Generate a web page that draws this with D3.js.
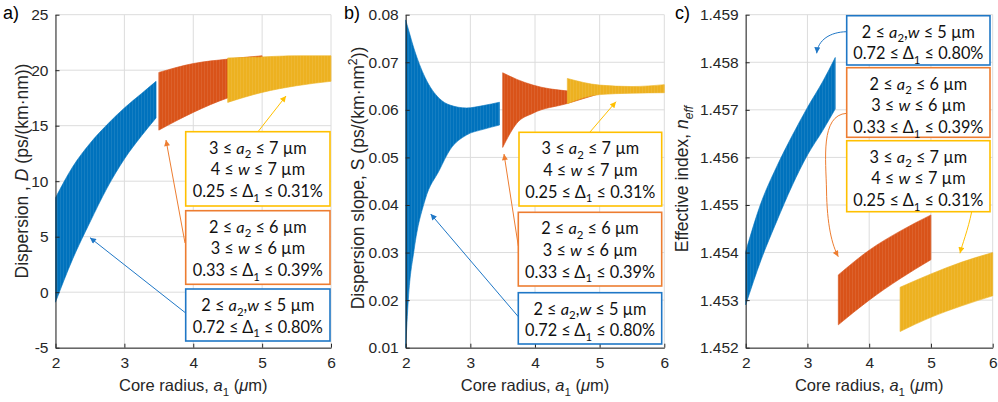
<!DOCTYPE html>
<html>
<head>
<meta charset="utf-8">
<script src="https://cdn.jsdelivr.net/npm/d3@7"></script>
<style>
  body { margin: 0; background: #fff; }
  svg { display: block; }
</style>
</head>
<body>
<div id="chart"></div>
<script>
// ---- data ----
var xTicks = [2, 3, 4, 5, 6];
var dispTicks = [-5, 0, 5, 10, 15, 20, 25];
var slopeTicks = [0.01, 0.02, 0.03, 0.04, 0.05, 0.06, 0.07, 0.08];
var neffTicks = [1.452, 1.453, 1.454, 1.455, 1.456, 1.457, 1.458, 1.459];

// a) dispersion D
var dBlueA1 = [2, 2.25, 2.5, 2.75, 3, 3.25, 3.46];
var dBlueHi = [8.5, 11.3, 13.4, 15.1, 16.6, 17.9, 19.0];
var dBlueLo = [-0.9, 3.0, 6.3, 9.4, 12.0, 14.1, 15.7];
var dOrangeA1 = [3.5, 4, 4.5, 5];
var dOrangeHi = [19.8, 20.6, 21.0, 21.3];
var dOrangeLo = [14.6, 16.2, 17.5, 18.3];
var dYellowA1 = [4.5, 5, 5.5, 6];
var dYellowHi = [21.1, 21.2, 21.3, 21.3];
var dYellowLo = [17.1, 18.0, 18.6, 19.0];

// b) dispersion slope S
var sBlueA1 = [2, 2.04, 2.13, 2.3, 2.52, 2.685, 2.94, 3.2, 3.45];
var sBlueHi = [0.0789, 0.0770, 0.0728, 0.0668, 0.0624, 0.0610, 0.0604, 0.0609, 0.0616];
var sBlueLo = [0.0100, 0.0200, 0.0306, 0.0411, 0.0473, 0.0516, 0.0547, 0.0559, 0.0568];
var sOrangeA1 = [3.5, 3.72, 3.97, 4.49, 5.0];
var sOrangeHi = [0.0678, 0.0664, 0.0652, 0.0640, 0.0637];
var sOrangeLo = [0.0521, 0.0572, 0.0593, 0.0613, 0.0634];
var sYellowA1 = [4.5, 5, 5.5, 6];
var sYellowHi = [0.0666, 0.0652, 0.0649, 0.0653];
var sYellowLo = [0.0613, 0.0632, 0.0635, 0.0636];

// c) effective index
var nBlueA1 = [2, 2.25, 2.5, 2.75, 3, 3.25, 3.45];
var nBlueHi = [1.45402, 1.45505, 1.45580, 1.45645, 1.45705, 1.45760, 1.45810];
var nBlueLo = [1.45290, 1.45385, 1.45465, 1.45540, 1.45605, 1.45657, 1.45702];
var nOrangeA1 = [3.5, 4, 4.5, 5];
var nOrangeHi = [1.45353, 1.45405, 1.45445, 1.45479];
var nOrangeLo = [1.45248, 1.45300, 1.45345, 1.45385];
var nYellowA1 = [4.5, 5, 5.5, 6];
var nYellowHi = [1.45327, 1.45355, 1.45380, 1.45400];
var nYellowLo = [1.45234, 1.45264, 1.45288, 1.45309];

// annotation texts
var yellowLines = [
  [{t: "3 ≤ "}, {t: "a", it: 1}, {t: "2", sub: 1}, {t: " ≤ 7 µm"}],
  [{t: "4 ≤ "}, {t: "w", it: 1}, {t: " ≤ 7 µm"}],
  [{t: "0.25 ≤ Δ"}, {t: "1", sub: 1}, {t: " ≤ 0.31%"}]
];
var orangeLines = [
  [{t: "2 ≤ "}, {t: "a", it: 1}, {t: "2", sub: 1}, {t: " ≤ 6 µm"}],
  [{t: "3 ≤ "}, {t: "w", it: 1}, {t: " ≤ 6 µm"}],
  [{t: "0.33 ≤ Δ"}, {t: "1", sub: 1}, {t: " ≤ 0.39%"}]
];
var blueLines = [
  [{t: "2 ≤ "}, {t: "a", it: 1}, {t: "2", sub: 1}, {t: ","}, {t: "w", it: 1}, {t: " ≤ 5 µm"}],
  [{t: "0.72 ≤ Δ"}, {t: "1", sub: 1}, {t: " ≤ 0.80%"}]
];

var blue = "#0072BD", orange = "#D95319", yellow = "#EDB120";
var blueEdge = "#1F77C6", orangeEdge = "#ED7D31", yellowEdge = "#FFC000";
var axisFont = "'Liberation Sans', Arial, sans-serif";
var boxFont = "Lato, 'Open Sans', sans-serif";

var svg = d3.select("#chart").append("svg")
  .attr("width", 998)
  .attr("height", 402);

var defs = svg.append("defs");
[["blue", blueEdge], ["orange", orangeEdge], ["yellow", yellowEdge]].forEach(function(m) {
  defs.append("marker")
    .attr("id", "arrow-" + m[0])
    .attr("viewBox", "0 0 10 10")
    .attr("refX", 10).attr("refY", 5)
    .attr("markerWidth", 8).attr("markerHeight", 6)
    .attr("markerUnits", "userSpaceOnUse")
    .attr("orient", "auto")
    .append("path")
    .attr("d", "M0,0 L10,5 L0,10 z")
    .attr("fill", m[1]);
});

// faint vertical streaks, the bands are drawn from many thin lines in the original
var streak = defs.append("pattern")
  .attr("id", "streak")
  .attr("patternUnits", "userSpaceOnUse")
  .attr("width", 3).attr("height", 10);
streak.append("rect").attr("x", 0).attr("y", 0).attr("width", 0.8).attr("height", 10)
  .attr("fill", "#fff").attr("opacity", 0.1);

// writes mixed italic / subscript / superscript pieces into a text element
function rich(textSel, parts, fs) {
  var shift = 0;
  parts.forEach(function(p) {
    var ts = textSel.append("tspan").text(p.t);
    var target = p.sub ? fs * 0.28 : (p.sup ? -fs * 0.42 : 0);
    if (target !== shift) { ts.attr("dy", target - shift); shift = target; }
    if (p.it) ts.attr("font-style", "italic");
    if (p.sub || p.sup) ts.attr("font-size", fs * 0.7);
  });
}

var panels = [
  {
    letter: "a)", letterX: 3, left: 55.5, right: 331, yDomain: [-5, 25], ticks: dispTicks,
    fmt: function(d) { return d < 0 ? "-" + Math.abs(d) : d; },
    ylabX: 28, ylabY: 171,
    ylab: [{t: "Dispersion , "}, {t: "D", it: 1}, {t: " (ps/(km·nm))"}],
    bands: [[dBlueA1, dBlueHi, dBlueLo, blue], [dOrangeA1, dOrangeHi, dOrangeLo, orange], [dYellowA1, dYellowHi, dYellowLo, yellow]]
  },
  {
    letter: "b)", letterX: 344, left: 405.7, right: 664.3, yDomain: [0.01, 0.08], ticks: slopeTicks,
    fmt: d3.format(".2f"),
    ylabX: 364, ylabY: 178,
    ylab: [{t: "Dispersion slope, S (ps/(km·nm"}, {t: "2", sup: 1}, {t: "))"}],
    bands: [[sBlueA1, sBlueHi, sBlueLo, blue], [sOrangeA1, sOrangeHi, sOrangeLo, orange], [sYellowA1, sYellowHi, sYellowLo, yellow]]
  },
  {
    letter: "c)", letterX: 675, left: 745.7, right: 992.7, yDomain: [1.452, 1.459], ticks: neffTicks,
    fmt: d3.format(".3f"),
    ylabX: 688, ylabY: 179,
    ylab: [{t: "Effective index, "}, {t: "n", it: 1}, {t: "eff", sub: 1, it: 1}],
    bands: [[nBlueA1, nBlueHi, nBlueLo, blue], [nOrangeA1, nOrangeHi, nOrangeLo, orange], [nYellowA1, nYellowHi, nYellowLo, yellow]]
  }
];

var plotTop = 14.7, plotBottom = 347.7;

panels.forEach(function(p) {
  var x = d3.scaleLinear().domain([2, 6]).range([p.left, p.right]);
  var y = d3.scaleLinear().domain(p.yDomain).range([plotBottom, plotTop]);
  var g = svg.append("g");

  // grid
  g.selectAll(".gx").data(xTicks).enter().append("line")
    .attr("x1", function(d) { return x(d); }).attr("x2", function(d) { return x(d); })
    .attr("y1", plotTop).attr("y2", plotBottom)
    .attr("stroke", "#dcdcdc").attr("stroke-width", 1);
  g.selectAll(".gy").data(p.ticks).enter().append("line")
    .attr("x1", p.left).attr("x2", p.right)
    .attr("y1", function(d) { return y(d); }).attr("y2", function(d) { return y(d); })
    .attr("stroke", "#dcdcdc").attr("stroke-width", 1);

  // bands
  p.bands.forEach(function(b) {
    var pts = b[0].map(function(a, i) { return {a: a, hi: b[1][i], lo: b[2][i]}; });
    var area = d3.area()
      .x(function(d) { return x(d.a); })
      .y0(function(d) { return y(d.lo); })
      .y1(function(d) { return y(d.hi); })
      .curve(d3.curveMonotoneX);
    g.append("path")
      .attr("d", area(pts))
      .attr("fill", b[3])
      .attr("stroke", b[3])
      .attr("stroke-width", 0.6);
    g.append("path")
      .attr("d", area(pts))
      .attr("fill", "url(#streak)");
  });

  // axes
  var bottomAxis = d3.axisBottom(x).tickValues(xTicks).tickFormat(d3.format("d"))
    .tickSizeInner(-4).tickSizeOuter(0).tickPadding(9);
  var leftAxis = d3.axisLeft(y).tickValues(p.ticks).tickFormat(p.fmt)
    .tickSizeInner(-4).tickSizeOuter(0).tickPadding(7);
  var ax = g.append("g").attr("transform", "translate(0," + plotBottom + ")").call(bottomAxis);
  var ay = g.append("g").attr("transform", "translate(" + p.left + ",0)").call(leftAxis);
  [ax, ay].forEach(function(a) {
    a.select(".domain").attr("stroke", "#262626");
    a.selectAll(".tick line").attr("stroke", "#262626");
    a.selectAll(".tick text").attr("fill", "#262626").attr("font-family", axisFont).attr("font-size", 15.5);
  });

  // labels
  var xl = g.append("text")
    .attr("x", (p.left + p.right) / 2).attr("y", 391)
    .attr("text-anchor", "middle")
    .attr("font-family", axisFont).attr("font-size", 16.5).attr("fill", "#262626");
  rich(xl, [{t: "Core radius, "}, {t: "a", it: 1}, {t: "1", sub: 1}, {t: " ("}, {t: "μ", it: 1}, {t: "m)"}], 16.5);

  var yl = g.append("text")
    .attr("transform", "translate(" + p.ylabX + "," + p.ylabY + ") rotate(-90)")
    .attr("text-anchor", "middle")
    .attr("font-family", axisFont).attr("font-size", 17.5).attr("fill", "#262626");
  rich(yl, p.ylab, 17.5);

  g.append("text")
    .attr("x", p.letterX).attr("y", 19)
    .attr("font-family", axisFont).attr("font-size", 18).attr("fill", "#000")
    .text(p.letter);
});

// annotation boxes
function box(x0, y0, x1, y1, color, lines) {
  svg.append("rect")
    .attr("x", x0).attr("y", y0).attr("width", x1 - x0).attr("height", y1 - y0)
    .attr("fill", "#fff").attr("stroke", color).attr("stroke-width", 1.6);
  lines.forEach(function(parts, i) {
    var t = svg.append("text")
      .attr("x", (x0 + x1) / 2).attr("y", y0 + 22 + i * 21.7)
      .attr("text-anchor", "middle")
      .attr("font-family", boxFont).attr("font-size", 16.3).attr("fill", "#111");
    rich(t, parts, 16.3);
  });
}

function arrow(d, name, color) {
  svg.append("path")
    .attr("d", d)
    .attr("fill", "none")
    .attr("stroke", color).attr("stroke-width", 1)
    .attr("marker-end", "url(#arrow-" + name + ")");
}

// a)
arrow("M258,131.7 L286,96", "yellow", yellowEdge);
arrow("M185,243 L166,140", "orange", orangeEdge);
arrow("M185.7,313 L90,237.7", "blue", blueEdge);
box(185.7, 131.7, 330, 206, yellowEdge, yellowLines);
box(185.7, 210.7, 330, 284.3, orangeEdge, orangeLines);
box(185.7, 289, 330, 341, blueEdge, blueLines);

// b)
arrow("M590,132 L616,101.7", "yellow", yellowEdge);
arrow("M518.3,246 L504,154", "orange", orangeEdge);
arrow("M518.3,316.7 L430.7,214", "blue", blueEdge);
box(519, 132.3, 661.7, 206, yellowEdge, yellowLines);
box(518.3, 212.3, 661.7, 286, orangeEdge, orangeLines);
box(518.3, 292.7, 661.7, 344, blueEdge, blueLines);

// c)
arrow("M846.7,31.7 C830,32 818,40 816.7,53.3", "blue", blueEdge);
arrow("M846.7,113.3 C820,115 826,160 826.5,190 C827,225 832,245 838.3,256.7", "orange", orangeEdge);
arrow("M971.7,211.7 C968,230 962,245 960,253.3", "yellow", yellowEdge);
box(846.7, 15.7, 990, 65, blueEdge, blueLines);
box(846.7, 67.7, 990, 137.3, orangeEdge, orangeLines);
box(846.7, 140.7, 990, 211.7, yellowEdge, yellowLines);
</script>
</body>
</html>
